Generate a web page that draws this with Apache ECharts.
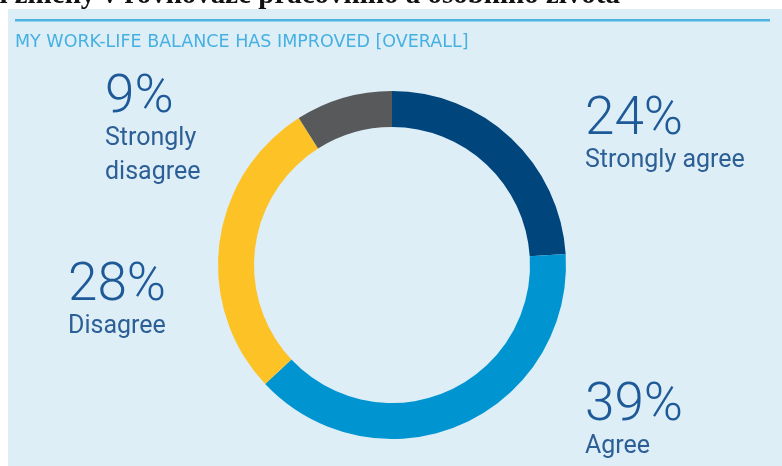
<!DOCTYPE html>
<html>
<head>
<meta charset="utf-8">
<script src="https://cdn.jsdelivr.net/npm/echarts@6/dist/echarts.min.js"></script>
<style>
  html, body { margin: 0; padding: 0; background: #fff; }
  #chart { width: 782px; height: 466px; }
</style>
</head>
<body>
<div id="chart"></div>
<script>
const categories = ['Strongly agree', 'Agree', 'Disagree', 'Strongly disagree']
const shares = [24, 39, 28, 9]
const sliceColors = ['#00457c', '#0095d0', '#fdc226', '#58595b']
const labelNames = ['Strongly agree', 'Agree', 'Disagree', 'Strongly\ndisagree']
const headerText = 'ní změny v rovnováze pracovního a osobního života'
const panelTitle = 'MY WORK-LIFE BALANCE HAS IMPROVED [OVERALL]'

// label anchor (top-left) for each slice
const labelPos = [[585, 98], [585, 384], [68, 264], [105, 76]]

const chart = echarts.init(document.getElementById('chart'))

chart.setOption({
  animation: false,
  graphic: [
    { type: 'rect', z: -10, shape: { x: 8, y: 9, width: 800, height: 470 }, style: { fill: '#deeef7' } },
    { type: 'rect', z: -5, shape: { x: 15, y: 19, width: 755, height: 2.5 }, style: { fill: '#4db4e4' } },
    {
      type: 'text', left: 15, top: 33,
      style: { text: panelTitle, fill: '#45b0e2', font: '17.5px "DejaVu Sans", sans-serif' }
    },
    {
      type: 'text', z: 5,
      style: {
        x: 620, y: 10,
        text: headerText, fill: '#111', align: 'right', verticalAlign: 'bottom',
        font: 'bold 29px "Liberation Serif", "DejaVu Serif", serif'
      }
    }
  ],
  series: [{
    type: 'pie',
    center: [392, 265],
    radius: [138, 174],
    startAngle: 90,
    clockwise: true,
    silent: true,
    itemStyle: { borderWidth: 0 },
    labelLine: { show: false },
    label: {
      show: true,
      position: 'outside',
      formatter: (p) => '{pct|' + p.value + '%}\n{name|' + labelNames[p.dataIndex] + '}',
      rich: {
        pct: { fontFamily: 'Roboto', fontWeight: 300, fontSize: 53, lineHeight: 46, color: '#1e5a98' },
        name: { fontFamily: 'Roboto', fontSize: 25, lineHeight: 34, color: '#2c5f95' }
      }
    },
    labelLayout: (params) => ({
      x: labelPos[params.dataIndex][0],
      y: labelPos[params.dataIndex][1],
      align: 'left',
      verticalAlign: 'top'
    }),
    data: categories.map((c, i) => ({ name: c, value: shares[i], itemStyle: { color: sliceColors[i] } }))
  }]
})
</script>
</body>
</html>
